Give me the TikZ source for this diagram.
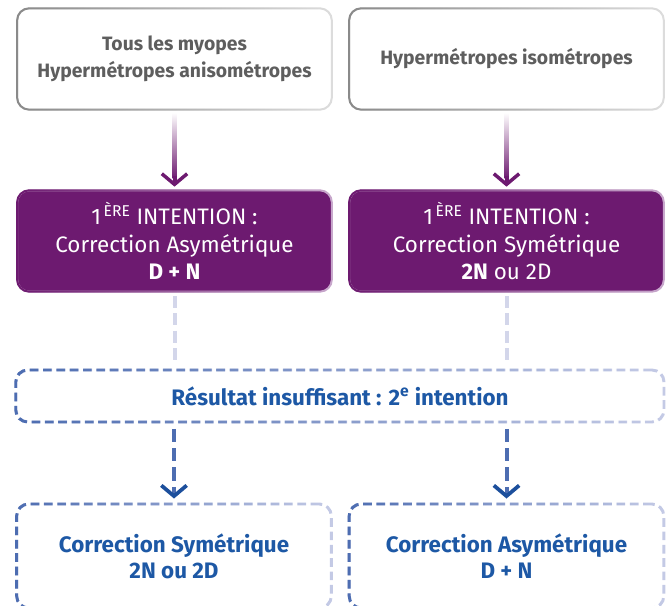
\documentclass[tikz,border=0pt]{standalone}
\usepackage{fontspec}
\setmainfont{Fira Sans}
\usetikzlibrary{arrows.meta,fadings}

\definecolor{violetfond}{HTML}{6D1A70}
\definecolor{violetbord}{HTML}{C9A9CD}
\definecolor{grisbord}{HTML}{8A8A8A}
\definecolor{grisclair}{HTML}{DDDDDD}
\definecolor{gristexte}{HTML}{5E5E5E}
\definecolor{bleutexte}{HTML}{1D58A5}
\definecolor{bleubord}{HTML}{4D6DB1}
\definecolor{bleuclair}{HTML}{C5CBE6}
\definecolor{bleupointe}{HTML}{1C4F9C}
\definecolor{lavande}{HTML}{D3D6EA}

\tikzfading[name=fade right, left color=transparent!0, right color=transparent!100]

\tikzset{
  boitegris/.style={draw=grisclair, line width=1.5pt, rounded corners=9pt, fill=white,
    minimum width=236pt, minimum height=76pt, text=gristexte, align=center,
    font=\bfseries\fontsize{14.5}{20}\selectfont,
    postaction={draw=grisbord, path fading=fade right}},
  boiteviolet/.style={draw=violetbord, line width=1.5pt, rounded corners=9pt, fill=violetfond,
    minimum width=236pt, minimum height=76pt, text=white, align=center,
    font=\fontsize{16.8}{20.5}\selectfont,
    postaction={draw=violetfond, path fading=fade right}},
  boitebleu/.style={draw=bleuclair, line width=2.2pt, rounded corners=9pt,
    dash pattern=on 6.5pt off 3.5pt, text=bleutexte, align=center,
    font=\bfseries\fontsize{16.8}{19.5}\selectfont,
    postaction={draw=bleubord, path fading=fade right}},
  tigeviolet/.style={top color=white, bottom color=violetfond, draw=none},
  pointeviolet/.style={violetfond, line width=3pt,
    -{Straight Barb[length=8pt,width=19pt,line width=2.6pt]}},
  tiretlavande/.style={lavande, line width=3pt, dash pattern=on 9pt off 4pt,
    shorten <=2.5pt, shorten >=4pt},
  flechebleu/.style={bleubord, line width=3pt, dash pattern=on 10pt off 4.5pt,
    -{Straight Barb[length=8pt,width=19pt,line width=2.8pt,color=bleupointe]}, shorten <=4pt, shorten >=3pt}
}

\begin{document}
\begin{tikzpicture}[x=0.75pt,y=-0.75pt]
\useasboundingbox (0,0) rectangle (667,606);

%%%%------------Profils----------------%%
\node[boitegris] (myopes) at (174.5,59) {Tous les myopes\\Hypermétropes anisométropes};
\node[boitegris] (iso) at (506.5,59) {Hypermétropes isométropes};

%%%%------------1ère intention----------------%%
\node[boiteviolet] (asym) at (174.5,241)
  {1\textsuperscript{\,ÈRE} INTENTION :\\Correction Asymétrique\\\textbf{D + N}};
\node[boiteviolet] (sym) at (506.5,241)
  {1\textsuperscript{\,ÈRE} INTENTION :\\Correction Symétrique\\\textbf{2N} ou 2D};

%%%%------------2e intention----------------%%
\node[boitebleu, minimum width=486pt, minimum height=39pt] (resultat) at (340,396)
  {Résultat insuffisant : 2\textsuperscript{e} intention};
\node[boitebleu, minimum width=236pt, minimum height=78pt] (sym2) at (174,556)
  {Correction Symétrique\\2N ou 2D};
\node[boitebleu, minimum width=236pt, minimum height=78pt] (asym2) at (506.5,556)
  {Correction Asymétrique\\D + N};

%%%-------------Fleches-------------%%%
\shade[tigeviolet] ([xshift=-1.5pt,yshift=-1.5pt]myopes.south) rectangle ([xshift=1.5pt,yshift=8pt]asym.north);
\draw[pointeviolet] ([yshift=10pt]asym.north) -- ([yshift=2pt]asym.north);
\shade[tigeviolet] ([xshift=-1.5pt,yshift=-1.5pt]iso.south) rectangle ([xshift=1.5pt,yshift=8pt]sym.north);
\draw[pointeviolet] ([yshift=10pt]sym.north) -- ([yshift=2pt]sym.north);
\draw[tiretlavande] (asym.south) -- (asym.south |- resultat.north);
\draw[tiretlavande] (sym.south) -- (sym.south |- resultat.north);
\draw[flechebleu] (sym2.north |- resultat.south) -- (sym2.north);
\draw[flechebleu] (asym2.north |- resultat.south) -- (asym2.north);

\end{tikzpicture}
\end{document}
